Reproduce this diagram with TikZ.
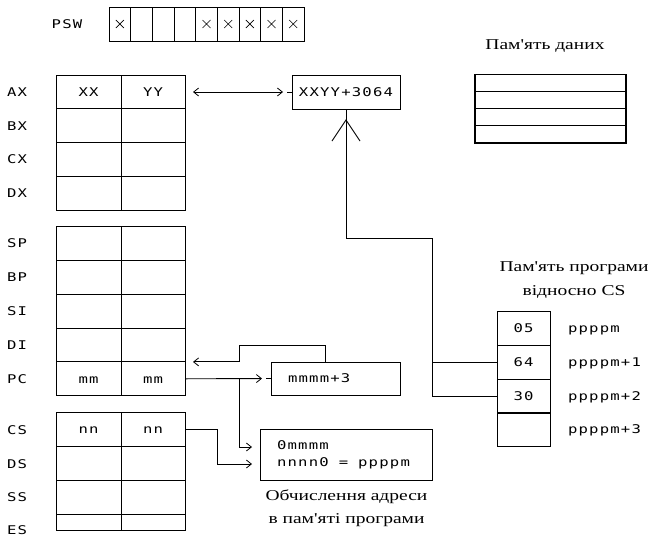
\documentclass[tikz,border=0pt]{standalone}
\usepackage{fontspec}
\usetikzlibrary{arrows.meta,calc}
\newfontfamily\pix[FakeStretch=1.3,LetterSpace=10]{DejaVu Sans Mono}
\newfontfamily\ser[FakeStretch=1.3,Ligatures=TeXOff]{Liberation Serif}
\newcommand\pixf{\pix\fontsize{12}{17}\selectfont}
\newcommand\serf{\ser\fontsize{15}{23.5}\selectfont}
\begin{document}
\begin{tikzpicture}[x=1pt,y=-1pt,
  every node/.style={inner sep=0pt,outer sep=0pt},
  box/.style={draw,line width=0.9pt,font=\pixf,text height=8.5pt,text depth=0pt},
  lab/.style={font=\pixf,text height=8.5pt,text depth=0pt},
  captxt/.style={font=\serf,align=center},
  wire/.style={line width=0.9pt},
  tip/.style={wire,-{Straight Barb[length=5pt,width=8pt,line width=0.8pt]}}]
\useasboundingbox (0,0) rectangle (655,536);

% PSW
\node[lab] (pswl) at (67,24) {PSW};
\foreach \i in {1,...,9}
  \node[box,minimum width=21.67pt,minimum height=34pt] (psw\i) at ({109+21.67*(\i-0.5)},24) {};
\foreach \i in {1,5,6,7,8,9}
  \draw[line width=0.6pt] ($(psw\i.center)+(-4,-4)$) -- ++(8,8) ($(psw\i.center)+(-4,4)$) -- ++(8,-8);

% register group 1
\foreach \y/\ta/\tb/\n [count=\i] in {92/XX/YY/AX,125.8///BX,159.6///CX,193.4///DX}{
  \node[box,minimum width=65pt,minimum height=33.8pt] (g1\i a) at (88.5,\y) {\ta};
  \node[box,minimum width=64pt,minimum height=33.8pt] (g1\i b) at (153,\y) {\tb};
  \node[lab,anchor=west] (g1\i l) at (7,\y) {\n};
}
% register group 2
\foreach \y/\ta/\tb/\n [count=\i] in {243.6///SP,277.4///BP,311.2///SI,345///DI,378.8/mm/mm/PC}{
  \node[box,minimum width=65pt,minimum height=33.8pt] (g2\i a) at (88.5,\y) {\ta};
  \node[box,minimum width=64pt,minimum height=33.8pt] (g2\i b) at (153,\y) {\tb};
  \node[lab,anchor=west] (g2\i l) at (7,\y) {\n};
}
% register group 3
\foreach \y/\h/\ta/\tb [count=\i] in {429.4/33.4/nn/nn,463.1/34//,497.2/34.2//,522.5/16.4//}{
  \node[box,minimum width=65pt,minimum height=\h pt] (g3\i a) at (88.5,\y) {\ta};
  \node[box,minimum width=64pt,minimum height=\h pt] (g3\i b) at (153,\y) {\tb};
}
\foreach \y/\n [count=\i] in {430/CS,464/DS,497/SS,530/ES}
  \node[lab,anchor=west] (g3\i l) at (7,\y) {\n};

% data memory
\node[captxt] (dmt) at (545,46) {Пам'ять даних};
\foreach \y [count=\i] in {83.1,100.2,117.3,134.4}
  \node[draw,line width=1.2pt,minimum width=151pt,minimum height=17.1pt] (dm\i) at (550.5,\y) {};

% XXYY box
\node[box,minimum width=108pt,minimum height=34pt] (xbox) at (346,92) {XXYY+3064};

% program memory
\node[captxt] (pmt) at (574,280) {Пам'ять програми\\відносно CS};
\foreach \y/\t/\l [count=\i] in {328/05/ppppm,362/64/ppppm+1,396/30/ppppm+2,429.5//ppppm+3}{
  \node[box,minimum width=53pt,minimum height=34pt] (pm\i) at (523.5,\y) {\t};
  \node[lab,anchor=west] (pml\i) at (568,\y) {\l};
}

% PC increment box
\node[box,minimum width=129pt,minimum height=33pt,align=left,text width=95pt,inner xsep=17pt] (pcbox) at (335.5,378.5) {mmmm+3};

% address calculation box
\node[draw,line width=0.9pt,font=\pixf,minimum width=172pt,minimum height=51pt,align=left,text width=138pt,inner xsep=17pt] (cbox) at (346,454.5) {0mmmm\\nnnn0\hspace{6pt} = \hspace{6pt}ppppm};
\node[captxt] (ct) at (346.5,508) {Обчислення адреси\\в пам'яті програми};

% coordinates
\coordinate (j1) at (432,238);
\coordinate (fb1) at (325,345);
\coordinate (fb2) at (239,345);
\coordinate (br) at (239,378.8);
\coordinate (cin1) at (260,447);
\coordinate (cin2) at (260,464);
\coordinate (cs1) at (217,429.4);

% AX <-> XXYY
\draw[wire,{Straight Barb[length=5pt,width=8pt,line width=0.8pt]}-{Straight Barb[length=5pt,width=8pt,line width=0.8pt]},shorten <=8pt,shorten >=9pt] (g11b.east) -- (xbox.west);
\draw[wire] (xbox.west) -- ++(-5,0);

% program memory -> XXYY
\draw[wire] (pm2.west) -| (j1) -| (xbox.south);
\draw[wire] (pm3.west) -| (j1);
\draw[wire] ($(xbox.south)+(-14,32)$) -- ($(xbox.south)+(0,11)$) -- ($(xbox.south)+(14,32)$);

% PC feedback
\draw[tip,shorten >=8pt] (pcbox.north -| fb1) -- (fb1) -- (fb2) |- (g25b.north east);
% PC -> increment box
\draw[tip,shorten >=9pt] (g25b.east) -- (pcbox.west);
\draw[wire] (pcbox.west) -- ++(-5,0);
% PC -> address box
\draw[tip,shorten >=8pt] (br) |- (cin1);
% CS -> address box
\draw[tip,shorten >=8pt] (g31b.east) -- (cs1) |- (cin2);
\end{tikzpicture}
\end{document}
